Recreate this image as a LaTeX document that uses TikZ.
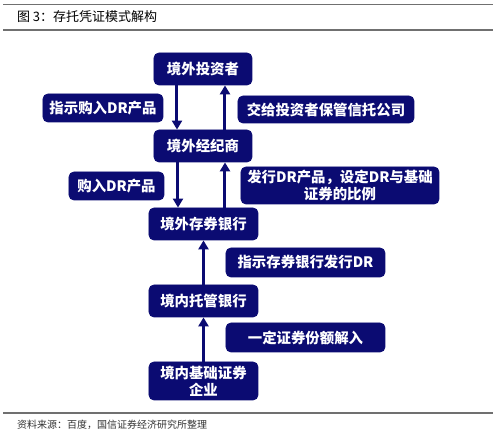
\documentclass[tikz,border=0pt]{standalone}
\usepackage{fontspec}
\newfontfamily\cjk{Noto Sans CJK SC}
\usetikzlibrary{arrows.meta}
\definecolor{DeepNavy}{HTML}{0B0B72}
\definecolor{RuleGray}{HTML}{707070}
\definecolor{SourceGray}{HTML}{333333}
\tikzset{
    entity/.style={draw=DeepNavy, fill=DeepNavy, rounded corners=2.5pt, text=white, align=center, inner sep=1pt, font=\cjk\bfseries\fontsize{7.2}{8.5}\selectfont},
    flow/.style={draw=DeepNavy, line width=1.5pt, -{Triangle[length=4.5pt,width=5pt]}},
    rule/.style={draw=RuleGray, line width=0.8pt}
}

\begin{document}
\begin{tikzpicture}[x=0.5pt, y=-0.5pt]
    \useasboundingbox (0,0) rectangle (500,437);
    % caption rules
    \draw[rule] (3,4.5) -- (493,4.5);
    \draw[rule] (3,30) -- (493,30);
    \draw[rule] (3,413) -- (493,413);
    \node[anchor=west, font=\cjk\fontsize{6.5}{8}\selectfont] (title) at (10,17) {图\ 3：存托凭证模式解构};
    \node[anchor=west, text=SourceGray, font=\cjk\fontsize{5}{6}\selectfont] (source) at (10,425) {资料来源：百度，国信证券经济研究所整理};
    % main chain
    \node[entity, minimum width=49pt, minimum height=16pt] (inv) at (203,69) {境外投资者};
    \node[entity, minimum width=49pt, minimum height=16pt] (brk) at (203,146) {境外经纪商};
    \node[entity, minimum width=54.5pt, minimum height=16pt] (dep) at (203.5,224) {境外存券银行};
    \node[entity, minimum width=54.5pt, minimum height=16pt] (cus) at (203.5,301) {境内托管银行};
    \node[entity, minimum width=54.5pt, minimum height=19pt] (ent) at (203.5,381) {境内基础证券\\企业};
    % side notes
    \node[entity, minimum width=60pt, minimum height=14pt] (ins) at (103,108) {指示购入DR产品};
    \node[entity, minimum width=88pt, minimum height=13.5pt] (hand) at (326,109.5) {交给投资者保管信托公司};
    \node[entity, minimum width=47.5pt, minimum height=14pt] (buy) at (116.5,186) {购入DR产品};
    \node[entity, minimum width=99pt, minimum height=18.5pt] (iss) at (340,185.5) {发行DR产品，设定DR与基础\\证券的比例};
    \node[entity, minimum width=79.5pt, minimum height=14.5pt] (ord) at (305.5,262.5) {指示存券银行发行DR};
    \node[entity, minimum width=79.5pt, minimum height=14.5pt] (shr) at (305.5,337.5) {一定证券份额解入};
    % arrows
    \draw[flow] ([xshift=-13pt]inv.south) -- ([xshift=-13pt]brk.north);
    \draw[flow] ([xshift=11pt]brk.north) -- ([xshift=11pt]inv.south);
    \draw[flow] ([xshift=-12.5pt]brk.south) -- ([xshift=-12.5pt]brk.south |- dep.north);
    \draw[flow] ([xshift=11pt]brk.south |- dep.north) -- ([xshift=11pt]brk.south);
    \draw[flow] (cus) -- (dep);
    \draw[flow] (ent) -- (cus);
\end{tikzpicture}
\end{document}
